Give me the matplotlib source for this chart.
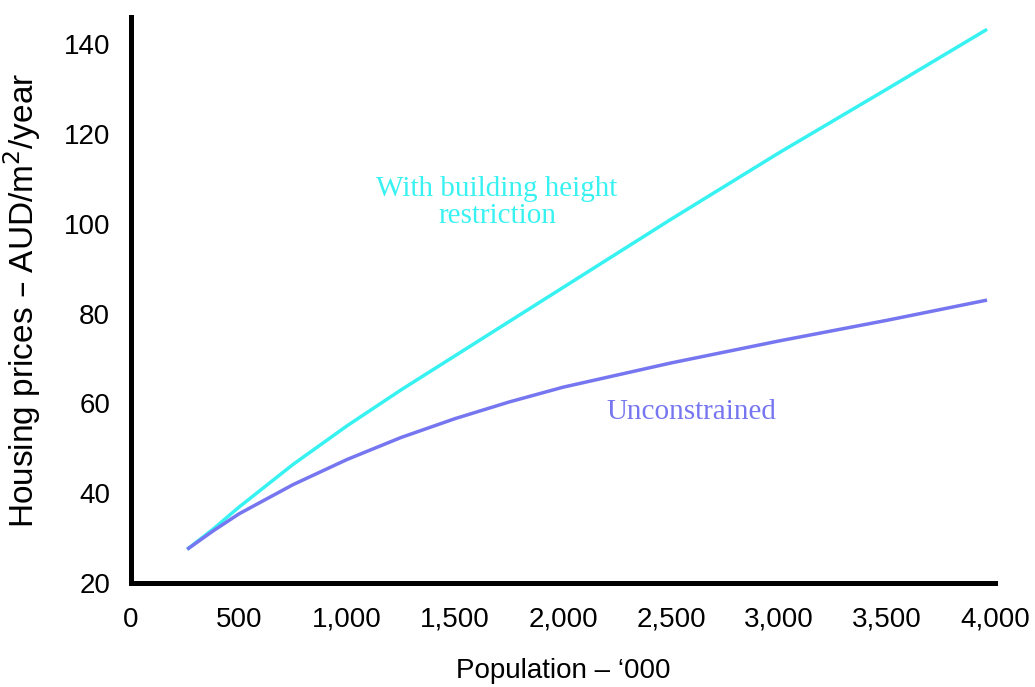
import matplotlib.pyplot as plt
import matplotlib.ticker as mticker

# values
population = [260, 380, 500, 750, 1000, 1250, 1500, 1750, 2000, 2500, 3000, 3500, 3963]
with_height_limit = [27.5, 32.0, 36.9, 46.4, 55.0, 63.0, 70.6, 78.2, 85.8, 101.0, 115.8, 130.0, 143.3]
unconstrained = [27.5, 31.6, 35.4, 41.9, 47.5, 52.4, 56.6, 60.3, 63.6, 69.0, 73.9, 78.5, 83.0]

x_ticks = [0, 500, 1000, 1500, 2000, 2500, 3000, 3500, 4000]
y_ticks = [20, 40, 60, 80, 100, 120, 140]

CYAN = "#38F2F2"
BLUE = "#7676F0"

plt.rcParams["font.family"] = ["Liberation Sans", "DejaVu Sans"]

fig = plt.figure(figsize=(10.35, 6.87), dpi=100)
ax = fig.add_axes([0.1266, 0.1514, 0.8348, 0.8236])

ax.plot(population, with_height_limit, color=CYAN, lw=2.5, solid_capstyle="butt")
ax.plot(population, unconstrained, color=BLUE, lw=2.5, solid_capstyle="butt")

ax.set_xlim(0, 4000)
ax.set_ylim(20, 146)
ax.set_xticks(x_ticks)
ax.set_yticks(y_ticks)
ax.xaxis.set_major_formatter(mticker.FuncFormatter(lambda v, p: f"{int(v):,}"))
ax.tick_params(length=0, labelsize=20)
ax.tick_params(axis="x", pad=17)
ax.tick_params(axis="y", pad=15)

for s in ["top", "right"]:
    ax.spines[s].set_visible(False)
for s in ["left", "bottom"]:
    ax.spines[s].set_linewidth(3.6)
    ax.spines[s].set_color("black")

ax.set_ylabel("Housing prices – AUD/m$^{2}$/year", fontsize=24, labelpad=15)
ax.set_xlabel("Population – ‘000", fontsize=20, labelpad=18)

ax.text(1694, 104.8, "With building height\nrestriction", color=CYAN,
        fontsize=21, family="Liberation Serif", ha="center", va="center",
        linespacing=1.05)
ax.text(2593, 58.1, "Unconstrained", color=BLUE, fontsize=21,
        family="Liberation Serif", ha="center", va="center")

fig.savefig("out.png", dpi=100)
